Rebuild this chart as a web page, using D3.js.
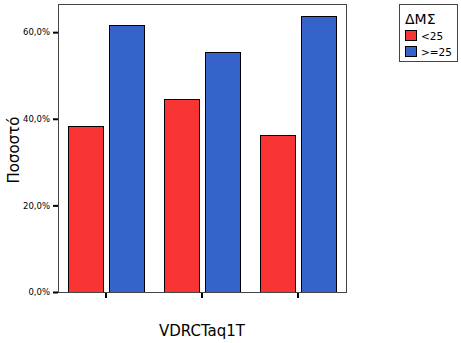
<!DOCTYPE html>
<html>
<head>
<meta charset="utf-8">
<script src="https://cdn.jsdelivr.net/npm/d3@7"></script>
<style>
  html, body { margin: 0; padding: 0; background: #fff; }
  svg { display: block; font-family: "DejaVu Sans", sans-serif; }
</style>
</head>
<body>
<svg id="chart" width="461" height="343"></svg>
<script>
// Percentage of each VDRCTaq1T genotype group by ΔΜΣ class
const categories = ["1", "2", "3"];
const seriesNames = ["<25", ">=25"];
const seriesColors = ["#f83434", "#3563c9"];
const below25 = [38.4, 44.5, 36.3];
const atOrAbove25 = [61.6, 55.5, 63.7];
const yTicks = [0, 20, 40, 60];
const legendTitle = "ΔΜΣ";
const xTitle = "VDRCTaq1T";
const yTitle = "Ποσοστό";

const series = [below25, atOrAbove25];

const svg = d3.select("#chart");
const plot = { left: 58, top: 4, right: 346, bottom: 292 };

const x = d3.scaleBand().domain(categories).range([plot.left, plot.right]);
const bw = x.bandwidth();
const inner = d3.scaleBand().domain(d3.range(series.length))
  .range([bw * 0.105, bw * 0.895]).paddingInner(0.146).paddingOuter(0);
const y = d3.scaleLinear().domain([0, 66.5]).range([plot.bottom, plot.top]);

// Bars
series.forEach((vals, si) => {
  svg.append("g").selectAll("rect").data(vals).join("rect")
    .attr("x", (d, i) => Math.round(x(categories[i]) + inner(si)) + 0.5)
    .attr("y", d => Math.round(y(d)) + 0.5)
    .attr("width", Math.round(inner.bandwidth()))
    .attr("height", d => plot.bottom - Math.round(y(d)))
    .attr("fill", seriesColors[si])
    .attr("stroke", "#000")
    .attr("stroke-width", 1);
});

// Plot frame
svg.append("rect")
  .attr("x", plot.left + 0.5).attr("y", plot.top + 0.5)
  .attr("width", plot.right - plot.left).attr("height", plot.bottom - plot.top)
  .attr("fill", "none").attr("stroke", "#444").attr("stroke-width", 1);

// Y axis
const yAxis = d3.axisLeft(y).tickValues(yTicks).tickSize(5).tickPadding(3)
  .tickFormat(d => d3.format(".1f")(d).replace(".", ",") + "%");
const gy = svg.append("g").attr("transform", `translate(${plot.left},0)`).call(yAxis);
gy.select(".domain").remove();
gy.selectAll(".tick line").attr("stroke", "#000").attr("stroke-width", 2);
gy.selectAll(".tick text").attr("font-size", 8.5).attr("fill", "#000")
  .attr("font-family", "DejaVu Sans, sans-serif");

// X axis
const xAxis = d3.axisBottom(x).tickSize(5).tickFormat("");
const gx = svg.append("g").attr("transform", `translate(0,${plot.bottom + 1})`).call(xAxis);
gx.select(".domain").remove();
gx.selectAll(".tick line").attr("stroke", "#000").attr("stroke-width", 2);

// Axis titles
svg.append("text").attr("x", 202).attr("y", 336).attr("text-anchor", "middle")
  .attr("font-size", 15).attr("fill", "#000").text(xTitle);
svg.append("text").attr("transform", "translate(19,150) rotate(-90)").attr("text-anchor", "middle")
  .attr("font-size", 15).attr("fill", "#000").text(yTitle);

// Legend
const lg = svg.append("g");
lg.append("rect").attr("x", 399.5).attr("y", 4.5).attr("width", 58).attr("height", 57)
  .attr("fill", "#fff").attr("stroke", "#444");
lg.append("text").attr("x", 405).attr("y", 24).attr("font-size", 14).attr("fill", "#000").text(legendTitle);
seriesNames.forEach((name, i) => {
  const yy = 30 + i * 16;
  lg.append("rect").attr("x", 405.5).attr("y", yy + 0.5).attr("width", 11).attr("height", 10)
    .attr("fill", seriesColors[i]).attr("stroke", "#000");
  lg.append("text").attr("x", 421).attr("y", yy + 9.5).attr("font-size", 10.5).attr("fill", "#000").text(name);
});
</script>
</body>
</html>
